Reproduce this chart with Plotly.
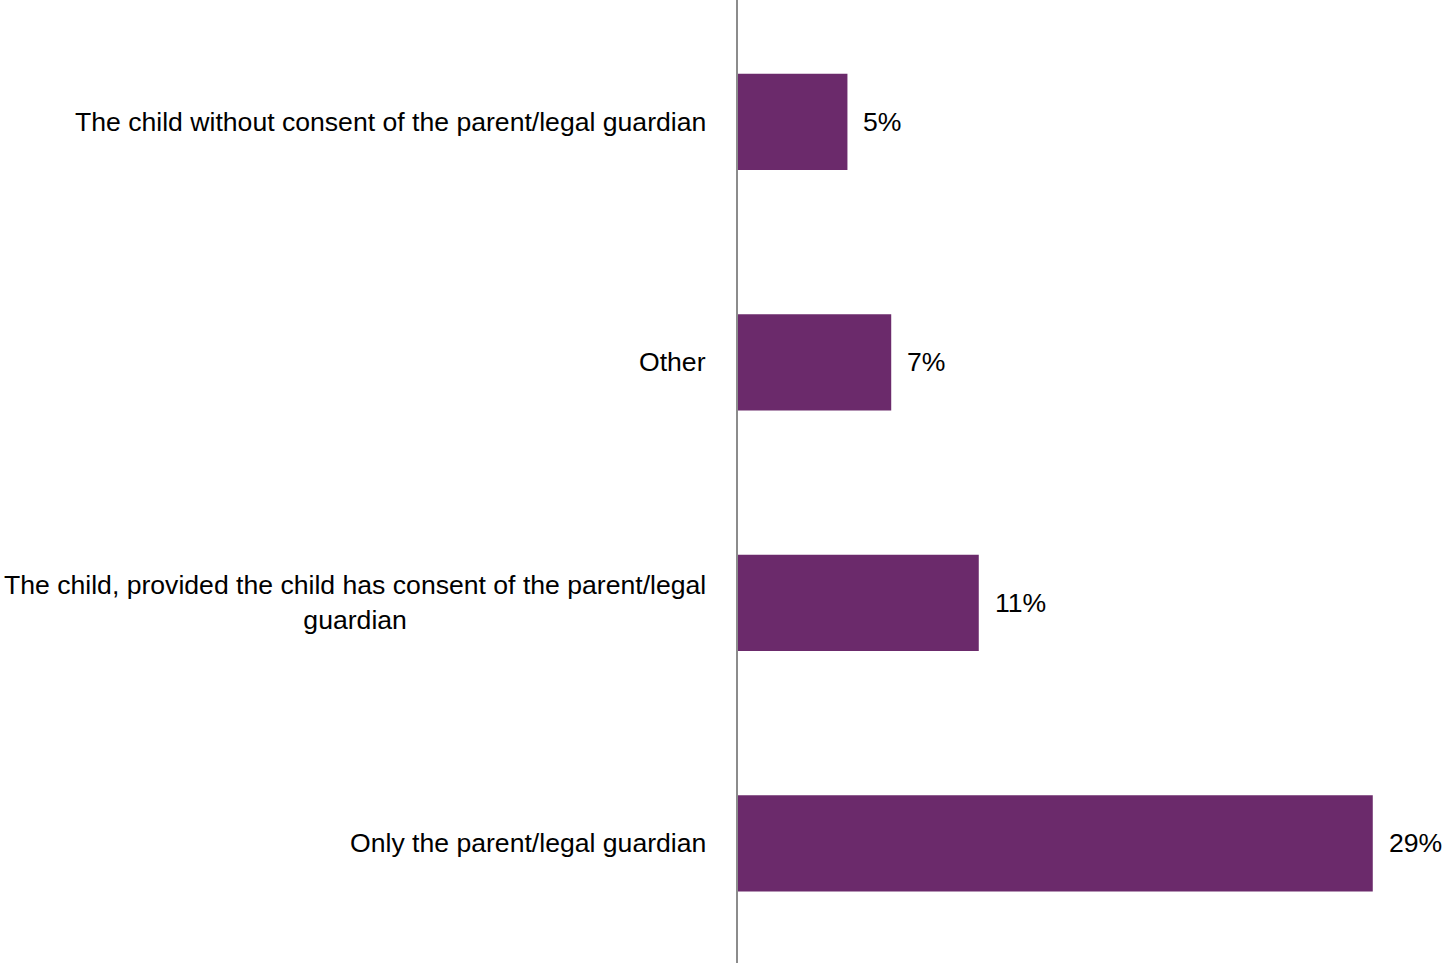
import plotly.graph_objects as go

categories = [
    "The child without consent of the parent/legal guardian",
    "Other",
    "The child, provided the child has consent of the parent/legal<br>guardian",
    "Only the parent/legal guardian",
]
values = [5, 7, 11, 29]
value_labels = ["5%", "7%", "11%", "29%"]

bar_color = "#6B2A6B"
font_family = "Liberation Sans, Arial, sans-serif"
font_size = 26.6

fig = go.Figure(
    go.Bar(
        x=values,
        y=categories,
        orientation="h",
        width=0.4,
        marker=dict(color=bar_color, line=dict(width=0)),
        hoverinfo="skip",
    )
)

annotations = []
for cat, v, lab in zip(categories, values, value_labels):
    # percentage to the right of each bar
    annotations.append(dict(
        x=v, y=cat, xref="x", yref="y", text=lab, showarrow=False,
        xanchor="left", yanchor="middle", xshift=14,
        font=dict(family=font_family, size=font_size, color="#000000"),
    ))
    # category label, right-aligned to the axis, lines centred
    annotations.append(dict(
        x=0, y=cat, xref="x", yref="y", text=cat, showarrow=False,
        xanchor="right", yanchor="middle", xshift=-30, align="center",
        font=dict(family=font_family, size=font_size, color="#000000"),
    ))

fig.update_layout(
    width=1445, height=963,
    margin=dict(l=738, r=0, t=0, b=0),
    paper_bgcolor="white", plot_bgcolor="white",
    showlegend=False,
    annotations=annotations,
    xaxis=dict(range=[0, 32.3], visible=False, fixedrange=True),
    yaxis=dict(
        range=[3.497, -0.507], showticklabels=False, ticks="",
        showgrid=False, zeroline=False,
        showline=True, linecolor="#8C8C8C", linewidth=2,
    ),
)

fig.write_html("out.html")
